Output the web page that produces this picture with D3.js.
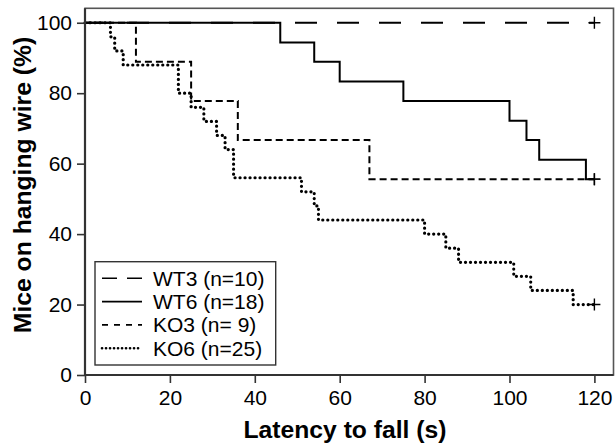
<!DOCTYPE html>
<html>
<head>
<meta charset="utf-8">
<script src="https://cdn.jsdelivr.net/npm/d3@7"></script>
<style>
  body { margin: 0; background: #fff; }
  text { font-family: "Liberation Sans", Arial, sans-serif; }
</style>
</head>
<body>
<svg id="chart" width="615" height="446"></svg>
<script>
// step data (time in s, % still hanging)
var wt3Times = [0, 120];
var wt3Pct = [100, 100];

var wt6Times = [0, 46, 54, 60, 75, 100, 104, 107, 118, 120];
var wt6Pct = [100, 94.4, 88.9, 83.3, 77.8, 72.2, 66.7, 61.1, 55.6, 55.6];

var ko3Times = [0, 12, 25, 36, 67, 120];
var ko3Pct = [100, 88.9, 77.8, 66.7, 55.6, 55.6];

var ko6Times = [0, 6, 7, 9, 22, 25, 28, 31, 33, 35, 51, 54, 55, 80, 85, 88, 101, 105, 115, 120];
var ko6Pct = [100, 96, 92, 88, 80, 76, 72, 68, 64, 56, 52, 48, 44, 40, 36, 32, 28, 24, 20, 20];

var legendLabels = ["WT3 (n=10)", "WT6 (n=18)", "KO3 (n= 9)", "KO6 (n=25)"];
var xTicks = [0, 20, 40, 60, 80, 100, 120];
var yTicks = [0, 20, 40, 60, 80, 100];

var svg = d3.select("#chart");

var x = d3.scaleLinear().domain([0, 124.5]).range([85, 613.5]);
var y = d3.scaleLinear().domain([0, 104.1]).range([375, 8.3]);

// series styles
var styles = [
  {dash: "22,20", width: 2, cap: "butt", legDash: "15,10", legWidth: 1.6},
  {dash: null, width: 2, cap: "butt", legDash: null, legWidth: 1.6},
  {dash: "7,4", width: 2, cap: "butt", legDash: "6,6", legWidth: 1.6},
  {dash: "0.1,4.9", width: 3.2, cap: "round", legDash: "0.1,3.9", legWidth: 2.6}
];

var series = [
  {t: wt3Times, p: wt3Pct},
  {t: wt6Times, p: wt6Pct},
  {t: ko3Times, p: ko3Pct},
  {t: ko6Times, p: ko6Pct}
];

// box (top and right edges)
svg.append("rect")
  .attr("x", x(0)).attr("y", y(104.1))
  .attr("width", x(124.5) - x(0)).attr("height", y(0) - y(104.1))
  .attr("fill", "none").attr("stroke", "#555").attr("stroke-width", 1.6);

var line = d3.line()
  .x(function(d) { return x(d[0]); })
  .y(function(d) { return y(d[1]); })
  .curve(d3.curveStepAfter);

// draw order: WT3, KO3, WT6, KO6
[0, 2, 1, 3].forEach(function(i) {
  var s = series[i];
  var pts = s.t.map(function(t, j) { return [t, s.p[j]]; });
  svg.append("path")
    .attr("d", line(pts))
    .attr("fill", "none")
    .attr("stroke", "#000")
    .attr("stroke-width", styles[i].width)
    .attr("stroke-linecap", styles[i].cap)
    .attr("stroke-dasharray", styles[i].dash);
  // censor mark at the end
  var last = pts[pts.length - 1];
  var cx = x(last[0]), cy = y(last[1]);
  svg.append("path")
    .attr("d", "M" + (cx - 6) + "," + cy + "H" + (cx + 6) + "M" + cx + "," + (cy - 6) + "V" + (cy + 6))
    .attr("stroke", "#000").attr("stroke-width", 1.4);
});

// axes
var xAxis = d3.axisBottom(x).tickValues(xTicks).tickSize(8).tickSizeOuter(0);
var yAxis = d3.axisLeft(y).tickValues(yTicks).tickSize(8).tickSizeOuter(0);

var gx = svg.append("g").attr("transform", "translate(0," + y(0) + ")").call(xAxis);
var gy = svg.append("g").attr("transform", "translate(" + x(0) + ",0)").call(yAxis);

[gx, gy].forEach(function(g) {
  g.select(".domain").remove();
  g.selectAll(".tick line").attr("stroke", "#333").attr("stroke-width", 1.6);
  g.selectAll(".tick text").attr("fill", "#000").style("font-size", "21px")
    .style("font-family", "'Liberation Sans', Arial, sans-serif");
});
gx.selectAll(".tick text").attr("dy", "0.95em").attr("y", 10);
gy.selectAll(".tick text").attr("x", -13);

svg.append("line")
  .attr("x1", x(0)).attr("x2", x(124.5)).attr("y1", y(0)).attr("y2", y(0))
  .attr("stroke", "#333").attr("stroke-width", 2.2);
svg.append("line")
  .attr("x1", x(0)).attr("x2", x(0)).attr("y1", y(0)).attr("y2", y(104.1))
  .attr("stroke", "#333").attr("stroke-width", 2.2);

// axis titles
svg.append("text")
  .attr("x", 345).attr("y", 438)
  .attr("text-anchor", "middle")
  .style("font-size", "24.7px").style("font-weight", "bold")
  .text("Latency to fall (s)");

svg.append("text")
  .attr("transform", "translate(31,185) rotate(-90)")
  .attr("text-anchor", "middle")
  .style("font-size", "24.7px").style("font-weight", "bold")
  .text("Mice on hanging wire (%)");

// legend
var leg = svg.append("g");
leg.append("rect")
  .attr("x", 95).attr("y", 261.7).attr("width", 180.7).attr("height", 103.3)
  .attr("fill", "#fff").attr("stroke", "#333").attr("stroke-width", 1.4);

legendLabels.forEach(function(lab, i) {
  var ly = 278.3 + i * 23.3;
  leg.append("line")
    .attr("x1", 102).attr("x2", 142).attr("y1", ly).attr("y2", ly)
    .attr("stroke", "#000")
    .attr("stroke-width", styles[i].legWidth)
    .attr("stroke-linecap", styles[i].cap)
    .attr("stroke-dasharray", styles[i].legDash);
  leg.append("text")
    .attr("x", 153).attr("y", ly).attr("dy", "0.36em")
    .style("font-size", "21px")
    .text(lab);
});
</script>
</body>
</html>
